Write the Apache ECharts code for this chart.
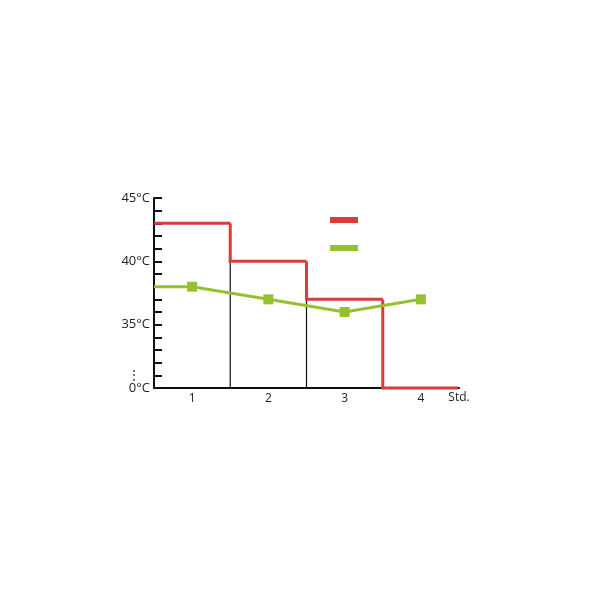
<!DOCTYPE html>
<html><head><meta charset="utf-8">
<script src="https://cdn.jsdelivr.net/npm/echarts@6/dist/echarts.min.js"></script>
<style>html,body{margin:0;padding:0;background:#fff}#c{width:600px;height:600px}</style>
</head><body><div id="c"></div>
<script>
var categories = ['1', '2', '3', '4'];
var redValues = [43, 40, 37, 30];
var greenValues = [38, 37, 36, 37];
var yLabels = {30: '0°C', 31: '⋮', 35: '35°C', 40: '40°C', 45: '45°C'};
var RED = '#dc3b3b', GREEN = '#97c030';
var AXIS_MIN = 30;

var chart = echarts.init(document.getElementById('c'));
chart.setOption({
  animation: false,
  grid: {left: 154, right: 141, top: 198, bottom: 212},
  legend: {
    left: 330, top: 217, orient: 'vertical', icon: 'rect', padding: 0,
    itemWidth: 28, itemHeight: 6, itemGap: 22,
    formatter: function () { return ''; },
    data: ['Red', 'Green']
  },
  xAxis: {
    type: 'category', data: categories, boundaryGap: true,
    axisLine: {lineStyle: {color: '#111', width: 2}},
    axisTick: {inside: true, length: 5, lineStyle: {color: '#111', width: 1.5}},
    axisLabel: {color: '#222', fontSize: 12, margin: 5, fontFamily: 'Open Sans'},
    name: 'Std.', nameLocation: 'end', nameGap: 0,
    nameTextStyle: {color: '#222', fontSize: 12, align: 'center', verticalAlign: 'top', padding: [4, 0, 0, 0], fontFamily: 'Open Sans'}
  },
  yAxis: {
    type: 'value', min: 30, max: 45, interval: 1,
    splitLine: {show: false},
    axisLine: {show: true, lineStyle: {color: '#111', width: 2}},
    axisTick: {show: true, inside: true, length: 8, lineStyle: {color: '#111', width: 2}},
    axisLabel: {
      color: '#222', fontSize: 13, margin: 4, fontFamily: 'Open Sans',
      showMinLabel: true, showMaxLabel: true, hideOverlap: false,
      formatter: function (v) {
        if (v === 31) return '{e|⋮}';
        return yLabels[v] || '';
      },
      rich: {e: {fontSize: 12, color: '#222', padding: [0, 10, 0, 0], lineHeight: 10}}
    }
  },
  series: [
    {
      name: 'Red', type: 'custom', z: 3,
      itemStyle: {color: RED},
      data: redValues.map(function (v, i) { return [i, v]; }),
      renderItem: function (params, api) {
        var i = params.dataIndex;
        var v = api.value(1);
        var c = api.coord([i, v]);
        var w = api.size([1, 0])[0];
        var left = c[0] - w / 2, right = c[0] + w / 2;
        var base = api.coord([i, AXIS_MIN])[1];
        var children = [];
        if (i > 0) {
          var prev = redValues[i - 1];
          var yp = api.coord([i, prev])[1];
          var ylow = api.coord([i, Math.min(prev, v)])[1];
          children.push({type: 'line', shape: {x1: left, y1: ylow, x2: left, y2: base}, style: {stroke: '#111', lineWidth: 1.2}});
          children.push({type: 'line', shape: {x1: left, y1: yp, x2: left, y2: c[1]}, style: {stroke: RED, lineWidth: 3}});
        }
        children.push({type: 'line', shape: {x1: left - (i > 0 ? 1.5 : 0), y1: c[1], x2: right - (i === redValues.length - 1 ? 1 : 0), y2: c[1]}, style: {stroke: RED, lineWidth: 3}});
        return {type: 'group', children: children};
      }
    },
    {
      name: 'Green', type: 'line', z: 5,
      data: greenValues,
      symbol: 'rect', symbolSize: 10,
      lineStyle: {color: GREEN, width: 3},
      itemStyle: {color: GREEN}
    },
    {
      name: 'GreenStub', type: 'custom', z: 4,
      data: [[0, greenValues[0]]],
      renderItem: function (params, api) {
        var c = api.coord([0, api.value(1)]);
        var w = api.size([1, 0])[0];
        return {type: 'line', shape: {x1: c[0] - w / 2, y1: c[1], x2: c[0], y2: c[1]}, style: {stroke: GREEN, lineWidth: 3}};
      }
    }
  ]
});
</script></body></html>
